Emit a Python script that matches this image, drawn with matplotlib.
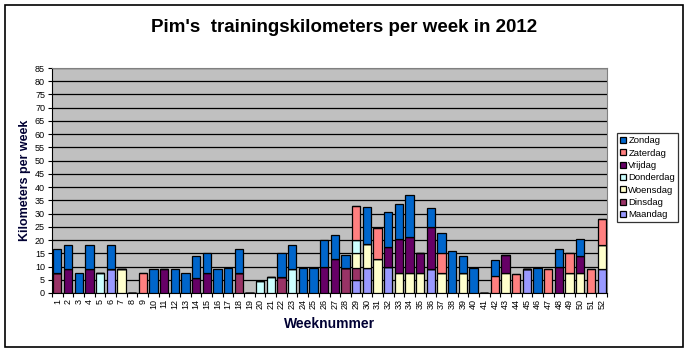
import matplotlib
matplotlib.use("Agg")
import matplotlib.pyplot as plt
import numpy as np
from matplotlib.patches import Rectangle

plt.rcParams['font.family'] = ['Liberation Sans', 'DejaVu Sans']

weeks = [str(i) for i in range(1, 53)]
day_names = ["Maandag", "Dinsdag", "Woensdag", "Donderdag", "Vrijdag", "Zaterdag", "Zondag"]
day_colors = ["#9999FF", "#993366", "#FFFFCC", "#CCFFFF", "#660066", "#FF8080", "#0066CC"]

maandag = [0, 0, 0, 0, 0, 9, 0, 0, 0, 0,
           0, 0, 0, 0, 0, 0, 0, 0, 0, 0,
           0, 0, 0, 0, 0, 0, 0, 0, 5, 9.5,
           0, 10, 0, 0, 0, 9, 0, 0, 0, 0,
           0, 0, 0, 0, 9, 0, 0, 0, 0, 0,
           0, 9]
dinsdag = [7.5, 0, 0, 0, 0, 0, 0, 0, 0, 0,
           0, 0, 0, 0, 0, 0, 0, 7.5, 0, 0,
           0, 6, 0, 0, 0, 0, 0, 9.5, 4.5, 0,
           0, 0, 0, 0, 0, 0, 0, 0, 0, 0,
           0, 0, 0, 0, 0, 0, 0, 0, 0, 0,
           0, 0]
woensdag = [0, 0, 0, 0, 0, 0, 9, 0, 0, 0,
            0, 0, 0, 0, 0, 0, 0, 0, 0, 0,
            0, 0, 0, 0, 0, 0, 0, 0, 5.5, 9,
            13, 0, 7.5, 7.5, 7.5, 0, 7.5, 0, 7.5, 0,
            0, 0, 7.5, 0, 0, 0, 0, 0, 7.5, 7.5,
            0, 9]
donderdag = [0, 0, 0, 0, 7.5, 0, 0, 0, 0, 0,
             0, 0, 0, 0, 0, 0, 0, 0, 0, 4.5,
             6, 0, 9, 0, 0, 0, 0, 0, 5, 0,
             0, 0, 0, 0, 0, 0, 0, 0, 0, 0,
             0, 0, 0, 0, 0, 0, 0, 0, 0, 0,
             0, 0]
vrijdag = [0, 9, 0, 9, 0, 0, 0, 0, 0, 0,
           9, 0, 0, 5.5, 7.5, 0, 0, 0, 0, 0,
           0, 0, 0, 0, 0, 10, 13, 0, 0, 0,
           0, 7.5, 13, 13.5, 7.5, 16, 0, 0, 0, 0,
           0, 0, 7, 0, 0, 0, 0, 10, 0, 6.5,
           0, 0]
zaterdag = [0, 0, 0, 0, 0, 0, 0, 0, 7.5, 0,
            0, 0, 0, 0, 0, 0, 0, 0, 0, 0,
            0, 0, 0, 0, 0, 0, 0, 0, 13, 0,
            11.5, 0, 0, 0, 0, 0, 7.5, 0, 0, 0,
            0, 6.5, 0, 7, 0, 0, 9, 0, 7.5, 0,
            9, 10]
zondag = [9, 9, 7.5, 9, 0, 9, 0, 0, 0, 9,
          0, 9, 7.5, 8.5, 7.5, 9, 9.5, 9, 0, 0,
          0, 9, 9, 9.5, 9.5, 10, 9, 5, 0, 14,
          0, 13, 13, 16, 0, 7, 7.5, 16, 6.5, 9.5,
          0, 6, 0, 0, 0, 9.5, 0, 6.5, 0, 6.5,
          0, 0]

series = [maandag, dinsdag, woensdag, donderdag, vrijdag, zaterdag, zondag]

fig = plt.figure(figsize=(6.89, 3.52), dpi=100)
fig.patch.set_facecolor("white")
fig.patches.append(Rectangle((5/689, 5/352), 678/689, 342/352, transform=fig.transFigure,
                             fill=False, edgecolor="black", linewidth=1.2))

ax = fig.add_axes([52/689, 59/352, 555/689, 225/352])
ax.set_facecolor("#C0C0C0")

x = np.arange(len(weeks))
bottom = np.zeros(len(weeks))
handles = []
for name, col, vals in zip(day_names, day_colors, series):
    v = np.array(vals, dtype=float)
    b = ax.bar(x, v, bottom=bottom, width=0.78, color=col, edgecolor="black",
               linewidth=0.9, label=name, zorder=3)
    handles.append(b)
    bottom += v

ax.set_xlim(-0.5, len(weeks) - 0.5)
ax.set_ylim(0, 85)
ax.set_yticks(np.arange(0, 86, 5))
ax.yaxis.grid(True, color="black", linewidth=0.9, zorder=1)
ax.set_axisbelow(True)
ax.tick_params(axis="y", labelsize=6.5, length=3, width=0.8, pad=2)

ax.set_xticks(x)
ax.set_xticklabels(weeks, rotation=90, fontsize=6.5)
ax.tick_params(axis="x", which="major", length=0, pad=4)
ax.set_xticks(np.arange(-0.5, len(weeks), 1), minor=True)
ax.tick_params(axis="x", which="minor", length=3, width=0.8)

for side in ["top", "right"]:
    ax.spines[side].set_color("#808080")
for side in ["left", "bottom"]:
    ax.spines[side].set_color("black")

ax.set_ylabel("Kilometers per week", fontsize=9, fontweight="bold", color="#000033", labelpad=3)
ax.set_xlabel("Weeknummer", fontsize=10, fontweight="bold", color="#000033", labelpad=6)

fig.text(0.5, 1 - 28/352, "Pim's  trainingskilometers per week in 2012", ha="center", va="center",
         fontsize=13.5, fontweight="bold")

leg = fig.legend(handles[::-1], day_names[::-1], loc="upper left",
                 bbox_to_anchor=(617/689, 1 - 133/352), fontsize=6.8, frameon=True,
                 fancybox=False, edgecolor="black", handlelength=0.6, handleheight=0.6,
                 handletextpad=0.25, borderpad=0.35, labelspacing=0.35, borderaxespad=0)
leg.get_frame().set_linewidth(0.9)

fig.savefig("out.png", dpi=100)
